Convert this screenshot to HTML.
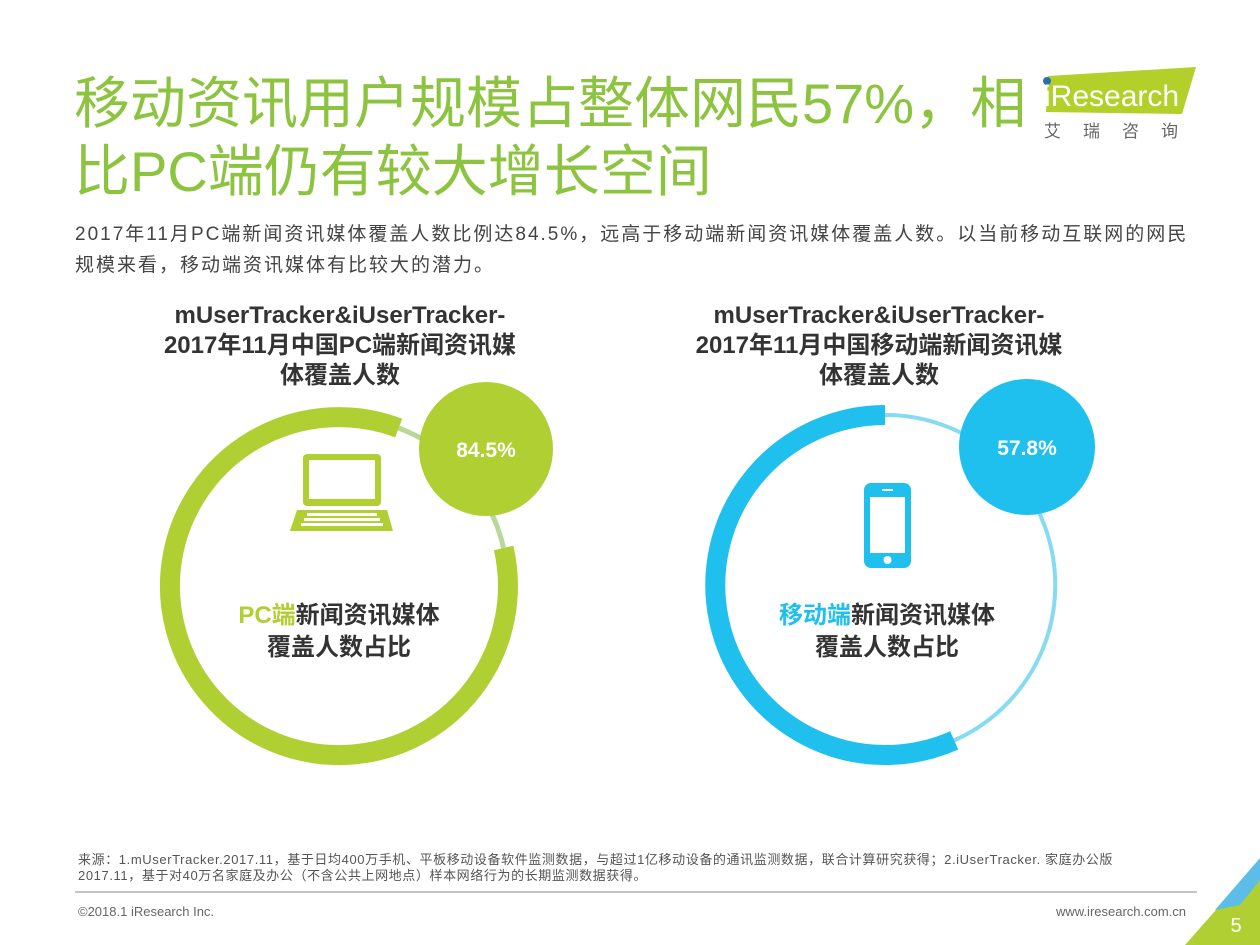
<!DOCTYPE html>
<html><head><meta charset="utf-8"><style>
body{margin:0;width:1260px;height:945px;background:#fff;position:relative;overflow:hidden;font-family:"Liberation Sans","Noto Sans CJK SC",sans-serif;}
.a{position:absolute;white-space:nowrap;}
.t{left:74px;font-size:56px;color:#8cc43f;line-height:68px;}
.s{left:75px;font-size:19px;letter-spacing:2px;color:#444;line-height:30px;}
.ct{font-size:24px;font-weight:bold;color:#333;text-align:center;line-height:30px;width:500px;}
.lb{font-size:24px;font-weight:bold;color:#333;text-align:center;line-height:32px;width:300px;}
</style></head><body>
<div class="a t" style="top:70px">移动资讯用户规模占整体网民57%，相</div>
<div class="a t" style="top:138px">比PC端仍有较大增长空间</div>
<div class="a s" style="top:220px">2017年11月PC端新闻资讯媒体覆盖人数比例达84.5%，远高于移动端新闻资讯媒体覆盖人数。以当前移动互联网的网民</div>
<div class="a s" style="top:251px">规模来看，移动端资讯媒体有比较大的潜力。</div>

<svg class="a" style="left:1036px;top:64px" width="170" height="80">
<polygon points="12,12 160,3 146,50 10,48" fill="#b3cf2a"/>
<circle cx="11" cy="17" r="4" fill="#2a6fb3"/>
<text x="8" y="42" font-family="Liberation Sans" font-size="30" fill="#fff">iResearch</text>
<text x="8" y="73" font-family="Noto Sans CJK SC" font-size="17" fill="#666" letter-spacing="22">艾瑞咨询</text>
</svg>

<div class="a ct" style="left:90px;top:301px">mUserTracker&amp;iUserTracker-<br>2017年11月中国PC端新闻资讯媒<br>体覆盖人数</div>
<div class="a ct" style="left:629px;top:301px">mUserTracker&amp;iUserTracker-<br>2017年11月中国移动端新闻资讯媒<br>体覆盖人数</div>

<svg class="a" style="left:0;top:0" width="1260" height="945">
<path d="M398.7,428 A169,169 0 0 1 503.6,548" fill="none" stroke="#b7d79b" stroke-width="5"/>
<path d="M503.6,548 A169,169 0 1 1 398.7,428" fill="none" stroke="#b0cf32" stroke-width="20"/>
<circle cx="486" cy="449" r="67" fill="#b0cf32"/>
<text x="486" y="457" text-anchor="middle" font-family="Liberation Sans" font-weight="bold" font-size="21" fill="#fff">84.5%</text>
<rect x="303" y="454" width="78" height="52" rx="4" fill="#b0cf32"/>
<rect x="309" y="460" width="66" height="39" fill="#fff"/>
<polygon points="297,510 387,510 393,531 290,531" fill="#b0cf32"/>
<g fill="#fff"><rect x="307" y="513" width="70" height="3"/><rect x="304" y="518" width="76" height="3"/><rect x="301" y="523" width="82" height="3"/></g>
<path d="M885,415 A170,170 0 0 1 954.2,740.4" fill="none" stroke="#86dbf2" stroke-width="4"/>
<path d="M954.2,740.4 A170,170 0 1 1 885,415" fill="none" stroke="#1fc0ee" stroke-width="20"/>
<circle cx="1027" cy="447" r="68" fill="#1fc0ee"/>
<text x="1027" y="455" text-anchor="middle" font-family="Liberation Sans" font-weight="bold" font-size="21" fill="#fff">57.8%</text>
<rect x="864" y="483" width="47" height="85" rx="7" fill="#1fc0ee"/>
<rect x="870" y="497" width="35" height="56" fill="#fff"/>
<rect x="882" y="489" width="11" height="2" fill="#fff"/>
<circle cx="887.5" cy="560" r="4" fill="#fff"/>
<line x1="75" y1="892" x2="1197" y2="892" stroke="#888" stroke-width="1"/>
<polygon points="1260,860 1260,945 1185,945" fill="#b0cf32"/>
<polygon points="1260,858 1215,910 1240,905 1260,880" fill="#5bbde8"/>
<text x="1236" y="932" text-anchor="middle" font-family="Liberation Sans" font-size="20" fill="#fff">5</text>
</svg>

<div class="a lb" style="left:189px;top:600px"><span style="color:#b0cf32">PC端</span>新闻资讯媒体<br>覆盖人数占比</div>
<div class="a lb" style="left:737px;top:600px"><span style="color:#1fc0ee">移动端</span>新闻资讯媒体<br>覆盖人数占比</div>

<div class="a" style="left:78px;top:852px;font-size:13px;letter-spacing:0.6px;color:#555;line-height:16px">来源：1.mUserTracker.2017.11，基于日均400万手机、平板移动设备软件监测数据，与超过1亿移动设备的通讯监测数据，联合计算研究获得；2.iUserTracker. 家庭办公版<br>2017.11，基于对40万名家庭及办公（不含公共上网地点）样本网络行为的长期监测数据获得。</div>
<div class="a" style="left:78px;top:904px;font-size:13px;color:#666">©2018.1 iResearch Inc.</div>
<div class="a" style="left:1056px;top:904px;font-size:13px;color:#666">www.iresearch.com.cn</div>
</body></html>
